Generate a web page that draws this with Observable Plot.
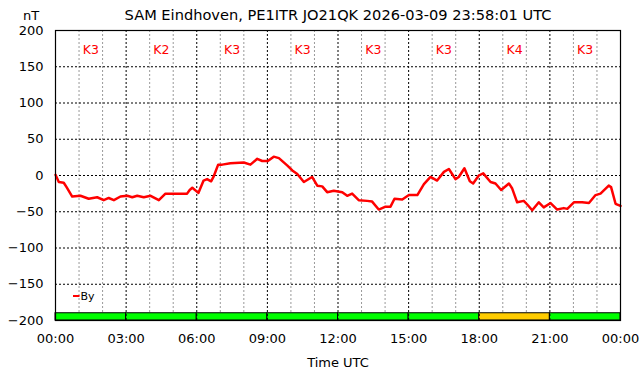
<!DOCTYPE html>
<html>
<head>
<meta charset="utf-8">
<script src="https://cdn.jsdelivr.net/npm/d3@7"></script>
<script src="https://cdn.jsdelivr.net/npm/@observablehq/plot@0.6"></script>
<style>
  html, body { margin: 0; padding: 0; background: white; }
</style>
</head>
<body>
<div id="chart"></div>
<script>
const title = "SAM Eindhoven, PE1ITR JO21QK 2026-03-09 23:58:01 UTC";
const yUnit = "nT";
const xTitle = "Time UTC";
const seriesName = "By";

const hours = [0.00, 0.14, 0.35, 0.47, 0.71, 1.06, 1.41, 1.77, 2.05, 2.26, 2.48, 2.76, 3.05, 3.26, 3.47, 3.75, 4.04, 4.39, 4.67, 5.03, 5.52, 5.59, 5.70, 5.81, 6.07, 6.29, 6.44, 6.61, 6.71, 6.91, 7.08, 7.43, 8.00, 8.28, 8.57, 8.78, 9.02, 9.27, 9.49, 9.84, 10.06, 10.27, 10.55, 10.90, 11.12, 11.33, 11.54, 11.82, 12.18, 12.39, 12.60, 12.88, 13.24, 13.45, 13.73, 14.02, 14.23, 14.40, 14.73, 15.01, 15.37, 15.65, 15.93, 16.21, 16.50, 16.71, 16.99, 17.13, 17.37, 17.60, 17.74, 17.98, 18.17, 18.48, 18.69, 18.93, 19.26, 19.40, 19.61, 19.89, 20.04, 20.25, 20.53, 20.74, 21.03, 21.31, 21.59, 21.74, 22.02, 22.37, 22.66, 22.94, 23.15, 23.50, 23.60, 23.79, 24.00];
const byValues = [1, -9, -10, -16, -29, -28, -32, -30, -34, -31, -34, -29, -28, -30, -28, -30, -28, -34, -25, -25, -25, -25, -20, -17, -24, -7, -5, -8, -2, 15, 15, 17, 18, 15, 23, 20, 20, 26, 24, 14, 7, 2, -9, -2, -14, -15, -23, -21, -23, -28, -25, -34, -35, -36, -47, -43, -43, -32, -33, -27, -27, -12, -2, -7, 5, 9, -5, -2, 10, -8, -11, 0, 3, -9, -11, -20, -11, -18, -37, -35, -40, -48, -37, -44, -38, -47, -45, -46, -37, -37, -38, -27, -25, -14, -16, -39, -42];

const kStart = [0, 3, 6, 9, 12, 15, 18, 21];
const kIndex = [3, 2, 3, 3, 3, 3, 4, 3];

const xTicks = [0, 3, 6, 9, 12, 15, 18, 21, 24];
const xTickLabels = ["00:00", "03:00", "06:00", "09:00", "12:00", "15:00", "18:00", "21:00", "00:00"];
const xMinorTicks = [1, 2, 4, 5, 7, 8, 10, 11, 13, 14, 16, 17, 19, 20, 22, 23];
const yTicks = [-200, -150, -100, -50, 0, 50, 100, 150, 200];

const series = hours.map((h, i) => ({h, v: byValues[i]}));
const kData = kStart.map((s, i) => ({start: s, end: s + 3, k: kIndex[i]}));

const yMin = yTicks[0];
const kBarTop = -190;

const chart = Plot.plot({
  width: 642,
  height: 376,
  marginLeft: 55,
  marginRight: 22,
  marginTop: 30,
  marginBottom: 56,
  x: {domain: [0, 24]},
  y: {domain: [-200, 200]},
  style: {fontFamily: "'DejaVu Sans', sans-serif", fontSize: "13px", background: "white", color: "black"},
  marks: [
    Plot.gridX(xMinorTicks, {stroke: "#999", strokeOpacity: 1, strokeDasharray: "2,2"}),
    Plot.rect(kData, {x1: "start", x2: "end", y1: () => yMin, y2: () => kBarTop,
      fill: d => d.k >= 4 ? "#FFCC00" : "#00FF00", stroke: "black", strokeWidth: 1}),
    Plot.gridX(xTicks, {stroke: "black", strokeOpacity: 1, strokeDasharray: "2,2"}),
    Plot.gridY(yTicks, {stroke: "black", strokeOpacity: 1, strokeDasharray: "2,2"}),
    Plot.line(series, {x: "h", y: "v", stroke: "#FF0000", strokeWidth: 2.5}),
    Plot.text(kData, {x: d => (d.start + d.end) / 2, frameAnchor: "top", lineAnchor: "middle", dy: 19.5, text: d => "K" + d.k, fill: "#FF0000", fontSize: 12.5}),
    Plot.frame({stroke: "black", strokeWidth: 1.2}),
    Plot.axisX(xTicks, {tickFormat: (d, i) => xTickLabels[i], tickSize: 0, tickPadding: 13, label: null, fontSize: 13}),
    Plot.axisY(yTicks, {tickSize: 0, tickPadding: 12, label: null, fontSize: 13}),
    Plot.text([title], {frameAnchor: "top", lineAnchor: "middle", dy: -15, fontSize: 14.6}),
    Plot.text([yUnit], {frameAnchor: "top-left", textAnchor: "middle", lineAnchor: "middle", dx: -24.5, dy: -15, fontSize: 13}),
    Plot.text([xTitle], {frameAnchor: "bottom", lineAnchor: "middle", dy: 42.5, fontSize: 13}),
    Plot.text([seriesName], {frameAnchor: "bottom-left", textAnchor: "start", lineAnchor: "middle", dx: 25, dy: -24, fontSize: 11})
  ]
});

document.getElementById("chart").appendChild(chart);

// legend swatch next to the series name
const svg = d3.select(chart);
svg.append("line")
  .attr("x1", 73).attr("x2", 79.5)
  .attr("y1", 296).attr("y2", 296)
  .attr("stroke", "#FF0000").attr("stroke-width", 2);
</script>
</body>
</html>
